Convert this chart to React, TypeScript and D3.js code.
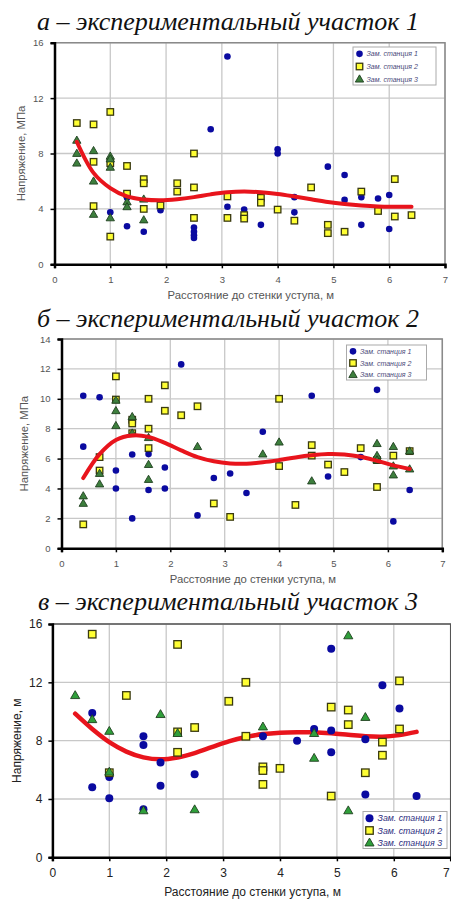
import * as d3 from 'd3';
import { useEffect, useRef } from 'react';

// shared axis ticks
const xTicks = [0, 1, 2, 3, 4, 5, 6, 7];
const legendNames = ['Зам. станция 1', 'Зам. станция 2', 'Зам. станция 3'];
const xTitle = 'Расстояние до стенки уступа, м';

// panel a
const p1Title = 'а – экспериментальный участок 1';
const p1YTicks = [0, 4, 8, 12, 16];
const p1Station1 = [
  [1.0, 3.75], [1.3, 4.8], [1.3, 2.75], [1.6, 2.35], [1.9, 3.9], [2.5, 2.65], [2.5, 2.35],
  [2.5, 2.1], [2.5, 1.9], [2.8, 9.75], [3.1, 15.0], [3.1, 4.15], [3.4, 3.95], [3.7, 2.85],
  [4.0, 8.3], [4.0, 8.0], [4.3, 4.85], [4.3, 3.75], [4.9, 7.05], [5.2, 6.45], [5.2, 4.65],
  [5.5, 4.85], [5.5, 2.85], [5.8, 4.75], [6.0, 5.0], [6.0, 2.55],
];
const p1Station2 = [
  [0.4, 10.2], [0.7, 10.1], [0.7, 7.4], [0.7, 4.2], [1.0, 11.0], [1.0, 7.3], [1.0, 2.0],
  [1.3, 7.1], [1.3, 5.1], [1.6, 6.15], [1.6, 5.85], [1.6, 4.0], [1.9, 4.25], [2.2, 5.85],
  [2.2, 5.25], [2.5, 8.0], [2.5, 5.55], [2.5, 3.35], [3.1, 4.9], [3.1, 3.35], [3.4, 3.55],
  [3.4, 3.3], [3.7, 4.8], [3.7, 4.45], [4.0, 3.95], [4.3, 3.15], [4.6, 5.55], [4.9, 2.85],
  [4.9, 2.25], [5.2, 2.35], [5.5, 5.25], [5.8, 3.85], [6.1, 6.15], [6.1, 3.45], [6.4, 3.55],
];
const p1Station3 = [
  [0.4, 8.95], [0.4, 8.0], [0.4, 7.3], [0.7, 8.2], [0.7, 6.0], [0.7, 3.6], [1.0, 7.8],
  [1.0, 7.6], [1.0, 7.0], [1.0, 3.35], [1.3, 4.5], [1.3, 4.15], [1.6, 4.7], [1.6, 3.2],
];
const p1Trend = [
  [0.4, 8.85], [0.7, 6.6], [1.0, 5.5], [1.3, 4.9], [1.6, 4.68], [1.9, 4.62], [2.2, 4.7],
  [2.5, 4.85], [2.8, 5.05], [3.1, 5.2], [3.4, 5.25], [3.7, 5.2], [4.0, 5.08], [4.3, 4.9],
  [4.6, 4.7], [4.9, 4.5], [5.2, 4.35], [5.5, 4.24], [5.8, 4.17], [6.1, 4.15], [6.4, 4.15],
];

// panel б
const p2Title = 'б – экспериментальный участок 2';
const p2YTicks = [0, 2, 4, 6, 8, 10, 12, 14];
const p2Station1 = [
  [0.4, 10.2], [0.4, 6.8], [0.7, 10.1], [1.0, 5.2], [1.0, 4.0], [1.3, 6.27], [1.3, 2.0],
  [1.6, 6.3], [1.6, 3.9], [1.9, 5.4], [1.9, 4.0], [2.2, 12.3], [2.5, 2.2], [2.8, 4.7],
  [3.1, 5.0], [3.4, 3.7], [3.7, 7.8], [4.6, 10.2], [4.9, 4.8], [5.5, 6.1], [5.8, 10.6],
  [6.1, 1.8], [6.4, 3.9],
];
const p2Station2 = [
  [0.4, 1.6], [0.7, 6.1], [0.7, 5.2], [1.0, 11.5], [1.0, 9.95], [1.3, 8.6], [1.3, 8.35],
  [1.3, 7.7], [1.6, 10.0], [1.6, 8.0], [1.6, 6.7], [1.9, 10.9], [1.9, 9.2], [2.2, 8.9],
  [2.5, 9.5], [2.8, 3.0], [3.1, 2.1], [4.0, 10.0], [4.0, 5.5], [4.3, 2.9], [4.6, 6.9],
  [4.6, 6.2], [4.9, 5.6], [5.2, 5.1], [5.5, 6.7], [5.8, 5.9], [5.8, 4.1], [6.1, 6.2], [6.4, 6.5],
];
const p2Station3 = [
  [0.4, 3.5], [0.4, 3.0], [0.7, 5.0], [0.7, 4.3], [1.0, 9.9], [1.0, 9.2], [1.0, 8.2],
  [1.3, 8.8], [1.3, 7.7], [1.6, 7.4], [1.6, 5.6], [1.6, 4.6], [2.5, 6.8], [3.7, 6.3],
  [4.0, 7.1], [4.6, 4.5], [5.8, 7.0], [5.8, 6.2], [5.8, 5.9], [6.1, 6.8], [6.1, 5.5],
  [6.1, 4.9], [6.4, 6.5], [6.4, 5.3],
];
const p2Trend = [
  [0.4, 4.7], [0.7, 6.3], [1.0, 7.25], [1.3, 7.55], [1.6, 7.45], [1.9, 7.05], [2.2, 6.55],
  [2.5, 6.1], [2.8, 5.82], [3.1, 5.68], [3.4, 5.66], [3.7, 5.75], [4.0, 5.9], [4.3, 6.08],
  [4.6, 6.22], [4.9, 6.3], [5.2, 6.27], [5.5, 6.12], [5.8, 5.85], [6.1, 5.55], [6.4, 5.3],
];

// panel в
const p3Title = 'в – экспериментальный участок 3';
const p3YTicks = [0, 4, 8, 12, 16];
const p3Station1 = [
  [0.7, 9.9], [0.7, 4.8], [1.0, 5.5], [1.0, 4.05], [1.6, 8.3], [1.6, 7.7], [1.6, 3.3],
  [1.9, 6.5], [1.9, 4.9], [2.5, 5.7], [3.7, 8.3], [4.3, 8.0], [4.6, 8.8], [4.9, 14.3],
  [4.9, 8.7], [4.9, 7.2], [5.5, 8.1], [5.5, 4.3], [5.8, 11.8], [6.1, 10.2], [6.4, 4.2],
];
const p3Station2 = [
  [0.7, 15.3], [1.0, 5.8], [1.3, 11.1], [2.2, 14.6], [2.2, 8.6], [2.2, 7.2], [2.5, 8.9],
  [3.1, 10.7], [3.4, 12.0], [3.4, 8.3], [3.7, 6.2], [3.7, 5.95], [3.7, 5.0], [4.0, 6.1],
  [4.9, 10.3], [4.9, 4.2], [5.2, 10.1], [5.2, 9.1], [5.5, 5.8], [5.8, 7.9], [5.8, 7.0],
  [6.1, 12.1], [6.1, 8.8],
];
const p3Station3 = [
  [0.4, 11.1], [0.7, 9.45], [1.0, 8.65], [1.0, 5.85], [1.6, 3.2], [1.9, 9.8], [2.2, 8.5],
  [2.5, 3.27], [3.7, 8.95], [4.6, 8.5], [4.6, 6.8], [5.2, 15.2], [5.2, 3.2], [5.5, 9.6],
];
const p3Trend = [
  [0.4, 9.85], [0.7, 8.8], [1.0, 7.9], [1.3, 7.25], [1.6, 6.85], [1.9, 6.72], [2.2, 6.85],
  [2.5, 7.15], [2.8, 7.55], [3.1, 7.95], [3.4, 8.25], [3.7, 8.45], [4.0, 8.55], [4.3, 8.58],
  [4.6, 8.57], [4.9, 8.5], [5.2, 8.4], [5.5, 8.3], [5.8, 8.27], [6.1, 8.38], [6.4, 8.6],
];

const panels = [
  {
    title: p1Title, titleY: 30, left: 54.5, right: 445, top: 42.7, bottom: 264.3,
    yTicks: p1YTicks, yLabel: 'Напряжение, МПа', yLabelX: 25, s1: p1Station1, s2: p1Station2,
    s3: p1Station3, trend: p1Trend, big: false, legend: { x: 353, y: 47, w: 83, h: 38 },
  },
  {
    title: p2Title, titleY: 327, left: 61.5, right: 442.3, top: 339, bottom: 548.3,
    yTicks: p2YTicks, yLabel: 'Напряжение, МПа', yLabelX: 28, s1: p2Station1, s2: p2Station2,
    s3: p2Station3, trend: p2Trend, big: false, legend: { x: 346.5, y: 345, w: 80, h: 35 },
  },
  {
    title: p3Title, titleY: 610, left: 52.4, right: 450.7, top: 624, bottom: 857.3,
    yTicks: p3YTicks, yLabel: 'Напряжение, м', yLabelX: 21, s1: p3Station1, s2: p3Station2,
    s3: p3Station3, trend: p3Trend, big: true, legend: { x: 363, y: 811.5, w: 84, h: 37 },
  },
];

const drawPanel = (svg, p) => {
  const x = d3.scaleLinear().domain([0, 7]).range([p.left, p.right]);
  const y = d3.scaleLinear().domain([0, d3.max(p.yTicks)]).range([p.bottom, p.top]);
  const g = svg.append('g');
  const tickColor = p.big ? '#222' : '#555';
  const tickSize = p.big ? 12 : 9.5;

  g.append('text')
    .attr('x', 228)
    .attr('y', p.titleY)
    .attr('text-anchor', 'middle')
    .attr('font-family', '"Liberation Serif", "Times New Roman", serif')
    .attr('font-style', 'italic')
    .attr('font-weight', 'normal')
    .attr('font-size', 26)
    .attr('fill', '#111')
    .text(p.title);

  // grid
  g.append('g')
    .selectAll('line')
    .data(xTicks.slice(1))
    .enter()
    .append('line')
    .attr('x1', (d) => x(d))
    .attr('x2', (d) => x(d))
    .attr('y1', p.top)
    .attr('y2', p.bottom)
    .attr('stroke', '#c8c8c8')
    .attr('stroke-width', 1.3);
  g.append('g')
    .selectAll('line')
    .data(p.yTicks.slice(1))
    .enter()
    .append('line')
    .attr('x1', p.left)
    .attr('x2', p.right)
    .attr('y1', (d) => y(d))
    .attr('y2', (d) => y(d))
    .attr('stroke', '#c8c8c8')
    .attr('stroke-width', 1.3);

  // frame top/right
  g.append('path')
    .attr('d', `M${p.left},${p.top}H${p.right}V${p.bottom}`)
    .attr('fill', 'none')
    .attr('stroke', p.big ? '#555' : '#8a8a8a')
    .attr('stroke-width', 1.5);

  const fmt = d3.format('d');
  // axes
  g.append('g')
    .attr('transform', `translate(0,${p.bottom})`)
    .call(d3.axisBottom(x).tickValues(xTicks).tickFormat(fmt).tickSize(4).tickPadding(p.big ? 7 : 8))
    .call((a) => a.select('.domain').attr('stroke', '#000').attr('stroke-width', 2.5))
    .call((a) => a.selectAll('.tick line').attr('stroke', '#000').attr('stroke-width', 1.5))
    .call((a) =>
      a.selectAll('.tick text')
        .attr('fill', tickColor)
        .attr('font-size', tickSize)
        .attr('font-family', '"Liberation Sans", Arial, sans-serif')
    )
    .call((a) =>
      // keep the last label inside the picture when the plot reaches the edge
      a.selectAll('.tick text')
        .filter((d) => x(d) > 446)
        .attr('text-anchor', 'end')
        .attr('dx', -1.5)
    );
  g.append('g')
    .attr('transform', `translate(${p.left},0)`)
    .call(d3.axisLeft(y).tickValues(p.yTicks).tickFormat(fmt).tickSize(4).tickPadding(p.big ? 6 : 7))
    .call((a) => a.select('.domain').attr('stroke', '#000').attr('stroke-width', 2.5))
    .call((a) => a.selectAll('.tick line').attr('stroke', '#000').attr('stroke-width', 1.5))
    .call((a) =>
      a.selectAll('.tick text')
        .attr('fill', tickColor)
        .attr('font-size', tickSize)
        .attr('font-family', '"Liberation Sans", Arial, sans-serif')
    );

  // axis titles
  g.append('text')
    .attr('x', (p.left + p.right) / 2 + 1)
    .attr('y', p.bottom + (p.big ? 38.5 : 35))
    .attr('text-anchor', 'middle')
    .attr('font-family', '"Liberation Sans", Arial, sans-serif')
    .attr('font-size', p.big ? 12 : 11.3)
    .attr('fill', tickColor)
    .text(xTitle);
  g.append('text')
    .attr('transform', `translate(${p.yLabelX},${(p.top + p.bottom) / 2}) rotate(-90)`)
    .attr('text-anchor', 'middle')
    .attr('font-family', '"Liberation Sans", Arial, sans-serif')
    .attr('font-size', p.big ? 12 : 11.3)
    .attr('fill', tickColor)
    .text(p.yLabel);

  // markers
  const r = p.big ? 4 : 3.3;
  const sq = p.big ? 7.5 : 6.5;
  const blue = '#0a0aa0';
  const green = p.big ? '#2f9f3a' : '#3d7f3d';
  const triangle = d3.symbol().type(d3.symbolTriangle).size(p.big ? 36 : 30);

  const drawSeries = (sel, data, kind) => {
    if (kind === 0) {
      sel.selectAll('circle.m')
        .data(data)
        .enter()
        .append('circle')
        .attr('cx', (d) => x(d[0]))
        .attr('cy', (d) => y(d[1]))
        .attr('r', r)
        .attr('fill', blue);
    } else if (kind === 1) {
      sel.selectAll('rect.m')
        .data(data)
        .enter()
        .append('rect')
        .attr('x', (d) => x(d[0]) - sq / 2)
        .attr('y', (d) => y(d[1]) - sq / 2)
        .attr('width', sq)
        .attr('height', sq)
        .attr('fill', '#ffff33')
        .attr('stroke', '#3a3a10')
        .attr('stroke-width', 1.3);
    } else {
      sel.selectAll('path.m')
        .data(data)
        .enter()
        .append('path')
        .attr('d', triangle)
        .attr('transform', (d) => `translate(${x(d[0])},${y(d[1]) + 0.5})`)
        .attr('fill', green)
        .attr('stroke', '#1f3f1f')
        .attr('stroke-width', 0.9);
    }
  };

  // trend line
  const line = d3
    .line()
    .x((d) => x(d[0]))
    .y((d) => y(d[1]))
    .curve(d3.curveCatmullRom);
  const drawTrend = () =>
    g.append('path')
      .attr('d', line(p.trend))
      .attr('fill', 'none')
      .attr('stroke', '#e8141c')
      .attr('stroke-width', p.big ? 4.5 : 4)
      .attr('stroke-linecap', 'round');

  if (p.big) drawTrend();
  drawSeries(g.append('g'), p.s1, 0);
  drawSeries(g.append('g'), p.s2, 1);
  drawSeries(g.append('g'), p.s3, 2);
  if (!p.big) drawTrend();

  // legend
  const L = p.legend;
  const lg = g.append('g');
  lg.append('rect')
    .attr('x', L.x)
    .attr('y', L.y)
    .attr('width', L.w)
    .attr('height', L.h)
    .attr('fill', '#fff')
    .attr('stroke', '#aaa')
    .attr('stroke-width', 1);
  const rowH = L.h / 3;
  legendNames.forEach((name, i) => {
    const cy = L.y + rowH * (i + 0.5) + 0.5;
    const mx = L.x + 6.5;
    const row = lg.append('g');
    drawSeries(row, [[x.invert(mx), y.invert(cy)]], i);
    row.append('text')
      .attr('x', mx + (p.big ? 8 : 7))
      .attr('y', cy + (p.big ? 3.2 : 2.5))
      .attr('font-family', '"Liberation Sans", Arial, sans-serif')
      .attr('font-style', 'italic')
      .attr('font-size', p.big ? 8.8 : 7)
      .attr('fill', p.big ? '#2e2e7e' : '#4a4a7a')
      .text(name);
  });
};

const App = () => {
  const ref = useRef(null);
  useEffect(() => {
    const svg = d3.select(ref.current);
    svg.selectAll('*').remove();
    panels.forEach((p) => drawPanel(svg, p));
  }, []);
  return (
    <svg
      ref={ref}
      width={451}
      height={899}
      style={{ position: 'absolute', left: 0, top: 0, background: '#fff' }}
    />
  );
};

export default App;
